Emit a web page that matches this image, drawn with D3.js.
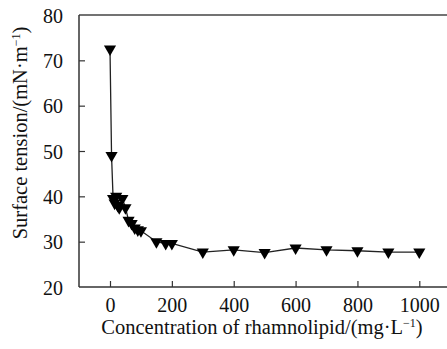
<!DOCTYPE html>
<html><head><meta charset="utf-8">
<script src="https://cdn.jsdelivr.net/npm/d3@7"></script>
<style>body{margin:0;background:#fff}svg{display:block}text{font-family:"Liberation Serif","Times New Roman",serif;fill:#111}</style>
</head><body><svg id="c" width="447" height="349"></svg>
<script>
const conc = [0,5,10,15,20,25,30,40,50,60,70,80,90,100,150,180,200,300,400,500,600,700,800,900,1000];
const tension = [72.5,49.0,39.5,38.5,40.0,38.0,37.5,39.5,37.5,34.7,34.0,33.0,32.6,32.4,30.0,29.6,29.6,27.7,28.2,27.6,28.6,28.2,28.0,27.7,27.7];
const xTicks = [0,200,400,600,800,1000];
const yTicks = [20,30,40,50,60,70,80];

const svg = d3.select('#c');
const L=79, R=447, T=15, B=287;
const x = d3.scaleLinear().domain([0,1000]).range([110,419.3]);
const y = d3.scaleLinear().domain([20,80]).range([B,T]);

svg.append('line').attr('x1',L).attr('x2',R).attr('y1',T).attr('y2',T).attr('stroke','#444').attr('stroke-width',1.6);
const xa = svg.append('g').attr('transform',`translate(0,${B})`)
  .call(d3.axisBottom(x).tickValues(xTicks).tickSize(-6).tickPadding(0).tickFormat(d3.format('d')));
xa.select('.domain').remove();
xa.selectAll('.tick text').attr('y',25).attr('dy',null);
svg.append('line').attr('x1',L).attr('x2',R).attr('y1',B).attr('y2',B).attr('stroke','#333').attr('stroke-width',1.5);
const ya = svg.append('g').attr('transform',`translate(${L},0)`)
  .call(d3.axisLeft(y).tickValues(yTicks).tickSize(0).tickPadding(16).tickFormat(d3.format('d')));
ya.select('.domain').remove();
ya.selectAll('.tick').append('line').attr('x1',0).attr('x2',d=>(d===20||d===80)?0:6).attr('stroke','#333').attr('stroke-width',1.2);
svg.append('line').attr('x1',L).attr('x2',L).attr('y1',T).attr('y2',B).attr('stroke','#333').attr('stroke-width',1.5);
xa.selectAll('.tick line').attr('stroke','#333').attr('stroke-width',1.2);
svg.selectAll('.tick text').attr('font-size',20).attr('fill','#111').attr('font-family','"Liberation Serif",serif');
ya.selectAll('.tick text').attr('dy','0.35em');

svg.append('path').datum(conc.map((c,i)=>[c,tension[i]]))
  .attr('fill','none').attr('stroke','#222').attr('stroke-width',1.3)
  .attr('d', d3.line().x(d=>x(d[0])).y(d=>y(d[1])));
svg.append('g').selectAll('path').data(conc.map((c,i)=>[c,tension[i]])).join('path')
  .attr('d', d3.symbol(d3.symbolTriangle, 64))
  .attr('transform', d=>`translate(${x(d[0])},${y(d[1])}) rotate(180)`)
  .attr('fill','#000');

const xt = svg.append('text').attr('x',262).attr('y',334).attr('text-anchor','middle').attr('font-size',20.5);
xt.append('tspan').text('Concentration of rhamnolipid/(mg·L');
xt.append('tspan').attr('font-size',12).attr('dy',-7).text('−1');
xt.append('tspan').attr('dy',7).text(')');
const yt = svg.append('text').attr('transform','translate(27,133) rotate(-90)').attr('text-anchor','middle').attr('font-size',20.5);
yt.append('tspan').text('Surface tension/(mN·m');
yt.append('tspan').attr('font-size',12).attr('dy',-7).text('−1');
yt.append('tspan').attr('dy',7).text(')');
</script></body></html>
